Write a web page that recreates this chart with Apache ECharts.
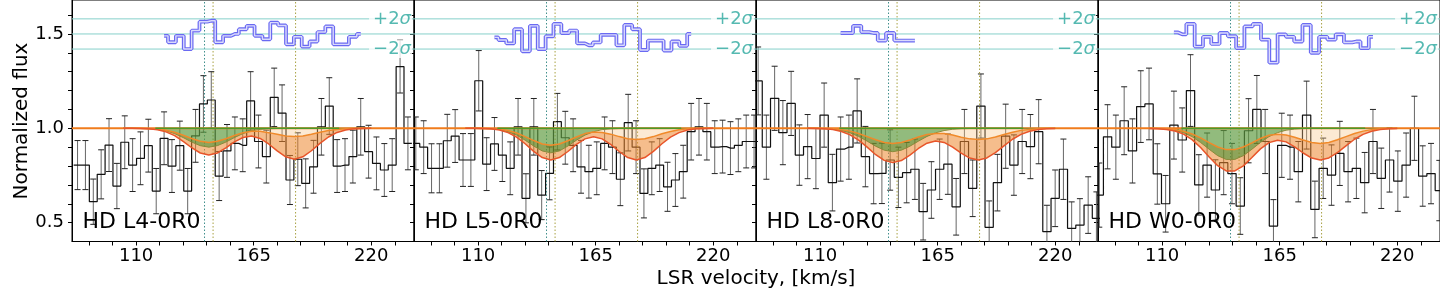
<!DOCTYPE html>
<html><head><meta charset="utf-8">
<script src="https://cdn.jsdelivr.net/npm/echarts@6/dist/echarts.min.js"></script>
<style>html,body{margin:0;padding:0;background:#fff}#c{width:1440px;height:288px}</style>
</head><body><div id="c"></div>
<script>
// ---------------- data ----------------
const panelNames = ['HD L4-0R0', 'HD L5-0R0', 'HD L8-0R0', 'HD W0-0R0'];
const xTickValues = [88, 99, 110, 121, 132, 143, 154, 165, 176, 187, 198, 209, 220, 231];
const xLabelValues = [110, 165, 220];
const yTickValues = [0.5, 0.6, 0.7, 0.8, 0.9, 1.0, 1.1, 1.2, 1.3, 1.4, 1.5, 1.6];
const yLabelValues = [0.5, 1.0, 1.5];
const componentVel = [142.0, 146.0, 184.6];
const residZero = 1.5;
const sigmaLevels = [1.58, 1.42];
const sigmaLabels = ['+2', '\u22122'];
const continuum = 1.0;
const componentSpan = [119, 205];

// bin centre of first bin and bin width (km/s) per panel
const binStart = [82.6, 80.85, 81.0, 80.6];
const binWidth = [3.68, 3.68, 3.86, 3.88];

const p1Flux = [0.805,0.805,0.611,0.756,0.911,0.694,0.926,0.805,0.841,0.908,0.667,0.947,0.80,0.908,0.667,0.96,1.129,1.15,0.747,0.88,0.92,0.91,1.145,0.93,0.85,1.164,1.08,0.726,0.836,0.708,0.796,1.008,1.118,0.80,0.805,0.85,1.008,0.876,0.814,0.779,0.805,1.327,0.92];
const p1Err  = [0.13,0.13,0.12,0.13,0.14,0.12,0.14,0.14,0.14,0.14,0.12,0.14,0.14,0.13,0.12,0.14,0.15,0.15,0.13,0.14,0.14,0.14,0.155,0.14,0.14,0.155,0.15,0.13,0.14,0.13,0.14,0.15,0.15,0.14,0.14,0.14,0.15,0.14,0.14,0.14,0.14,0.14,0.14];
const p2Flux = [0.92,0.90,0.788,0.788,0.934,0.959,0.832,0.832,1.252,0.81,0.917,0.858,0.788,1.008,0.629,1.008,0.646,0.761,1.035,0.95,0.91,0.796,0.77,0.788,0.92,0.90,0.73,1.03,0.90,0.655,0.788,0.805,0.69,0.726,0.77,0.982,1.008,0.982,0.90,0.903,0.895,0.91,0.93,0.93];
const p2Err  = [0.14,0.14,0.13,0.13,0.14,0.14,0.14,0.14,0.16,0.14,0.14,0.14,0.14,0.15,0.13,0.15,0.13,0.14,0.15,0.14,0.14,0.14,0.14,0.14,0.14,0.14,0.14,0.15,0.14,0.13,0.14,0.14,0.13,0.14,0.14,0.15,0.15,0.15,0.14,0.14,0.14,0.14,0.14,0.14];
const p3Flux = [1.251,0.90,1.159,0.977,1.132,0.858,0.903,0.84,1.07,0.712,0.89,0.90,1.092,0.85,0.76,0.761,0.832,0.74,0.765,0.783,0.558,0.673,0.783,0.81,0.584,0.93,0.682,1.118,0.475,0.712,0.958,0.805,0.93,0.903,0.982,0.452,0.629,0.783,0.47,0.487,0.593,0.523];
const p3Err  = [0.18,0.17,0.17,0.17,0.17,0.16,0.17,0.16,0.17,0.15,0.17,0.17,0.17,0.16,0.16,0.16,0.16,0.16,0.16,0.16,0.15,0.15,0.16,0.16,0.15,0.17,0.15,0.17,0.14,0.15,0.17,0.16,0.17,0.17,0.17,0.14,0.15,0.16,0.14,0.14,0.15,0.14];
const p4Flux = [0.646,0.955,0.90,1.04,0.88,1.115,1.129,0.758,0.60,1.017,0.938,1.2,0.70,0.805,0.673,0.818,0.76,0.588,0.987,1.1,0.93,0.482,0.91,0.9,0.77,1.07,0.57,0.788,0.752,0.867,0.77,0.788,0.712,0.93,0.735,0.832,0.72,0.805,1.0,0.747,0.76,0.67];
const p4Err  = [0.17,0.17,0.17,0.18,0.17,0.19,0.19,0.16,0.15,0.18,0.17,0.19,0.16,0.17,0.16,0.17,0.16,0.15,0.17,0.18,0.17,0.14,0.17,0.17,0.16,0.18,0.15,0.16,0.16,0.17,0.16,0.16,0.16,0.17,0.16,0.17,0.16,0.17,0.17,0.16,0.16,0.16];

// residuals: first bin index and values
const resStartBin = [11, 10, 10, 9];
const p1Res = [1.49,1.456,1.49,1.42,1.518,1.565,1.57,1.456,1.49,1.50,1.525,1.543,1.49,1.472,1.56,1.545,1.445,1.485,1.433,1.46,1.51,1.54,1.445,1.445,1.485,1.50];
const p2Res = [1.482,1.468,1.45,1.525,1.408,1.543,1.42,1.488,1.553,1.505,1.518,1.45,1.44,1.455,1.495,1.495,1.44,1.548,1.525,1.415,1.465,1.465,1.412,1.46,1.437,1.5];
const p3Res = [1.505,1.505,1.543,1.51,1.505,1.465,1.505,1.465,1.465,1.465];
const p4Res = [1.508,1.498,1.553,1.433,1.485,1.447,1.505,1.488,1.425,1.54,1.553,1.47,1.348,1.498,1.485,1.46,1.548,1.40,1.485,1.47,1.498,1.455,1.46,1.425,1.485];

// model curves sampled on modelVel
const modelVel = [104,108,112,116,120,124,128,132,136,140,144,148,152,156,160,164,168,172,176,180,184,188,192,196,200,204,208,212,216,220];
const p1TotLo = [1.000,1.000,0.999,0.997,0.992,0.981,0.961,0.931,0.897,0.869,0.858,0.869,0.896,0.928,0.951,0.959,0.946,0.917,0.880,0.849,0.836,0.849,0.881,0.920,0.954,0.978,0.991,0.997,0.999,1.000];
const p1TotHi = [1.000,1.000,1.000,0.998,0.996,0.990,0.979,0.963,0.946,0.931,0.925,0.931,0.945,0.962,0.977,0.984,0.984,0.977,0.968,0.959,0.956,0.959,0.968,0.979,0.988,0.994,0.998,0.999,1.000,1.000];
const p1C1Lo  = [1.000,1.000,0.999,0.998,0.994,0.987,0.972,0.951,0.927,0.908,0.900,0.908,0.927,0.951,0.972,0.987,0.994,0.998,0.999,1.000,1.000,1.000,1.000,1.000,1.000,1.000,1.000,1.000,1.000,1.000];
const p2TotLo = [1.000,1.000,0.999,0.997,0.991,0.977,0.953,0.918,0.878,0.845,0.832,0.845,0.877,0.915,0.944,0.955,0.944,0.915,0.877,0.845,0.832,0.845,0.878,0.918,0.953,0.977,0.991,0.997,0.999,1.000];
const p2TotHi = [1.000,1.000,0.999,0.998,0.995,0.988,0.975,0.956,0.935,0.917,0.910,0.917,0.934,0.954,0.972,0.980,0.978,0.969,0.956,0.945,0.940,0.945,0.956,0.971,0.983,0.992,0.997,0.999,1.000,1.000];
const p2C1Lo  = [1.000,1.000,0.999,0.997,0.993,0.982,0.964,0.937,0.906,0.880,0.870,0.880,0.906,0.937,0.964,0.982,0.993,0.997,0.999,1.000,1.000,1.000,1.000,1.000,1.000,1.000,1.000,1.000,1.000,1.000];
const p3TotLo = [1.000,0.999,0.997,0.993,0.983,0.965,0.937,0.900,0.860,0.830,0.818,0.829,0.858,0.893,0.921,0.933,0.925,0.900,0.868,0.842,0.832,0.843,0.871,0.907,0.942,0.968,0.984,0.993,0.998,0.999];
const p3TotHi = [1.000,1.000,0.999,0.997,0.993,0.985,0.972,0.956,0.939,0.925,0.920,0.925,0.938,0.954,0.967,0.973,0.972,0.964,0.953,0.944,0.940,0.944,0.954,0.967,0.979,0.989,0.994,0.998,1.000,1.000];
const p3C1Lo  = [1.000,0.999,0.998,0.995,0.988,0.976,0.957,0.932,0.905,0.884,0.876,0.884,0.905,0.932,0.957,0.976,0.988,0.995,0.998,0.999,1.000,1.000,1.000,1.000,1.000,1.000,1.000,1.000,1.000,1.000];
const p4TotLo = [0.999,0.998,0.994,0.986,0.969,0.940,0.898,0.848,0.802,0.774,0.774,0.801,0.845,0.891,0.924,0.937,0.928,0.902,0.869,0.842,0.832,0.843,0.871,0.907,0.942,0.968,0.984,0.993,0.998,0.999];
const p4TotHi = [1.000,0.999,0.997,0.993,0.984,0.970,0.949,0.924,0.901,0.887,0.887,0.901,0.923,0.946,0.963,0.969,0.965,0.953,0.938,0.925,0.920,0.925,0.939,0.956,0.972,0.985,0.993,0.997,0.999,1.000];
const p4C1Lo  = [1.000,0.999,0.996,0.990,0.977,0.956,0.925,0.889,0.855,0.835,0.835,0.855,0.889,0.925,0.956,0.977,0.990,0.996,0.999,1.000,1.000,1.000,1.000,1.000,1.000,1.000,1.000,1.000,1.000,1.000];

// ---------------- build ----------------
const panels = [
  {flux:p1Flux, err:p1Err, res:p1Res, lo:p1TotLo, hi:p1TotHi, c1:p1C1Lo},
  {flux:p2Flux, err:p2Err, res:p2Res, lo:p2TotLo, hi:p2TotHi, c1:p2C1Lo},
  {flux:p3Flux, err:p3Err, res:p3Res, lo:p3TotLo, hi:p3TotHi, c1:p3C1Lo},
  {flux:p4Flux, err:p4Err, res:p4Res, lo:p4TotLo, hi:p4TotHi, c1:p4C1Lo}
];

const FONT = 'DejaVu Sans';
const LEFT = 72, PW = 342, TOP = 0, PH = 241.5;
const X_MIN = 80, X_MAX = 240, Y_MIN = 0.4, Y_MAX = 1.68;
const TEAL_LINE = '#86d0ca', TEAL_TEXT = '#2aa89e';

const grids = [], xAxes = [], yAxes = [], series = [], graphics = [];

function bandSeries(i, upper, lower, color, z) {
  return {
    type: 'custom', xAxisIndex: i, yAxisIndex: i, z: z, silent: true, clip: true,
    data: [[modelVel[0], continuum]],
    renderItem: function (params, api) {
      const top = modelVel.map((v, j) => api.coord([v, Array.isArray(upper) ? upper[j] : upper]));
      const bot = modelVel.map((v, j) => api.coord([v, Array.isArray(lower) ? lower[j] : lower])).reverse();
      return { type: 'polygon', shape: { points: top.concat(bot) }, style: { fill: color } };
    }
  };
}
function curveSeries(i, arr, color, width, z) {
  return {
    type: 'line', xAxisIndex: i, yAxisIndex: i, z: z, silent: true, symbol: 'none',
    data: modelVel.map((v, j) => [v, arr[j]]),
    lineStyle: { color: color, width: width }
  };
}

panels.forEach((p, i) => {
  grids.push({ left: LEFT + PW * i, top: TOP, width: PW, height: PH, show: true,
    borderColor: '#000', borderWidth: 1, backgroundColor: 'transparent' });
  xAxes.push({
    type: 'value', gridIndex: i, min: X_MIN, max: X_MAX,
    axisLine: { show: true, lineStyle: { color: '#000', width: 1 } },
    axisTick: { show: true, customValues: xTickValues, length: 4, inside: false, lineStyle: { color: '#000' } },
    axisLabel: { show: true, customValues: xLabelValues, color: '#000', fontSize: 18, fontFamily: FONT, margin: 6 },
    splitLine: { show: false }
  });
  yAxes.push({
    type: 'value', gridIndex: i, min: Y_MIN, max: Y_MAX,
    axisLine: { show: true, lineStyle: { color: '#000', width: 1 } },
    axisTick: { show: true, customValues: yTickValues, length: 4, inside: false, lineStyle: { color: '#000' } },
    axisLabel: { show: i === 0, customValues: yLabelValues, color: '#000', fontSize: 18, fontFamily: FONT, margin: 8,
      formatter: v => Number(v).toFixed(1) },
    splitLine: { show: false }
  });

  const w = binWidth[i], c0 = binStart[i];
  const centers = p.flux.map((f, k) => c0 + w * k);

  // data histogram (full bins)
  const histPts = [[centers[0] - w / 2, p.flux[0]]]
    .concat(centers.map((c, k) => [c, p.flux[k]]))
    .concat([[centers[centers.length - 1] + w / 2, p.flux[p.flux.length - 1]]]);
  series.push({ type: 'line', xAxisIndex: i, yAxisIndex: i, z: 2, silent: true, symbol: 'none', step: 'middle',
    data: histPts, lineStyle: { color: '#111', width: 1.2 } });

  // error bars
  series.push({
    type: 'custom', xAxisIndex: i, yAxisIndex: i, z: 2, silent: true, clip: true,
    data: centers.map((c, k) => [c, p.flux[k] - p.err[k], p.flux[k] + p.err[k]]),
    encode: { x: 0, y: [1, 2] },
    renderItem: function (params, api) {
      const x = api.value(0);
      const lo = api.coord([x, api.value(1)]);
      const hi = api.coord([x, api.value(2)]);
      return { type: 'group', children: [
        { type: 'line', shape: { x1: lo[0], y1: lo[1], x2: hi[0], y2: hi[1] }, style: { stroke: '#666', lineWidth: 1 } },
        { type: 'line', shape: { x1: lo[0] - 3, y1: lo[1], x2: lo[0] + 3, y2: lo[1] }, style: { stroke: '#222', lineWidth: 1 } },
        { type: 'line', shape: { x1: hi[0] - 3, y1: hi[1], x2: hi[0] + 3, y2: hi[1] }, style: { stroke: '#222', lineWidth: 1 } }
      ] };
    }
  });

  // component velocity markers
  const vColors = ['#3f8f8c', '#a8a040', '#a8a040'];
  componentVel.forEach((v, j) => {
    series.push({ type: 'line', xAxisIndex: i, yAxisIndex: i, z: 3, silent: true, symbol: 'none',
      data: [[v, Y_MIN], [v, Y_MAX]], lineStyle: { color: vColors[j], width: 1, type: [1.5, 2] } });
  });

  // model fills
  series.push(bandSeries(i, continuum, p.hi, 'rgba(245,195,130,0.35)', 4));
  series.push(bandSeries(i, p.hi, p.lo, 'rgba(236,135,45,0.55)', 4));
  series.push(bandSeries(i, continuum, p.c1, 'rgba(40,140,40,0.5)', 4));

  // continuum & model lines
  series.push({ type: 'line', xAxisIndex: i, yAxisIndex: i, z: 5, silent: true, symbol: 'none',
    data: [[X_MIN, continuum], [X_MAX, continuum]], lineStyle: { color: '#f07c1c', width: 2 } });
  series.push(curveSeries(i, p.c1, '#8a8a3a', 1, 5));
  series.push(curveSeries(i, p.hi, '#f08a2a', 1.5, 5));
  series.push(curveSeries(i, p.lo, '#e8552a', 1.5, 5));
  series.push({ type: 'line', xAxisIndex: i, yAxisIndex: i, z: 5, silent: true, symbol: 'none',
    data: [[componentSpan[0], continuum], [componentSpan[1], continuum]], lineStyle: { color: '#4a9a2a', width: 1.5 } });

  // residual reference lines
  [residZero].concat(sigmaLevels).forEach(lv => {
    series.push({ type: 'line', xAxisIndex: i, yAxisIndex: i, z: 6, silent: true, symbol: 'none',
      data: [[X_MIN, lv], [X_MAX, lv]], lineStyle: { color: TEAL_LINE, width: 1 } });
  });

  // residual band
  const rs = resStartBin[i];
  const resPts = p.res.map((r, k) => [c0 + w * (rs + k), r]);
  series.push({ type: 'line', xAxisIndex: i, yAxisIndex: i, z: 7, silent: true, symbol: 'none', step: 'middle',
    data: resPts, lineStyle: { color: '#6a6af2', width: 3.8 } });
  series.push({ type: 'line', xAxisIndex: i, yAxisIndex: i, z: 7, silent: true, symbol: 'none', step: 'middle',
    data: resPts, lineStyle: { color: '#dadafc', width: 1.4 } });

  // sigma labels
  series.push({
    type: 'scatter', xAxisIndex: i, yAxisIndex: i, z: 9, silent: true, clip: false, symbolSize: 0,
    data: sigmaLevels.map((lv, j) => ({ value: [X_MAX, lv], label: { formatter: '{n|' + sigmaLabels[j] + '}{s|\u03c3}' } })),
    label: { show: true, position: 'left', distance: 2, backgroundColor: '#fff', padding: [0, 1, 0, 4],
      rich: { n: { fontSize: 18, fontFamily: FONT, color: TEAL_TEXT }, s: { fontSize: 18, fontFamily: FONT, fontStyle: 'italic', color: TEAL_TEXT } } }
  });

  graphics.push({ type: 'text', left: LEFT + PW * i + 10.5, top: 211.5, z: 100,
    style: { text: panelNames[i], fill: '#000', font: '22px "DejaVu Sans"' } });
});

graphics.push({ type: 'text', x: 22, y: 121, rotation: Math.PI / 2, z: 100,
  style: { text: 'Normalized flux', fill: '#000', font: '20px "DejaVu Sans"', align: 'center', verticalAlign: 'middle' } });
graphics.push({ type: 'text', x: 756, y: 279, z: 100,
  style: { text: 'LSR velocity, [km/s]', fill: '#000', font: '20px "DejaVu Sans"', align: 'center', verticalAlign: 'middle' } });

const chart = echarts.init(document.getElementById('c'), null, { renderer: 'canvas' });
chart.setOption({
  animation: false,
  backgroundColor: '#fff',
  grid: grids, xAxis: xAxes, yAxis: yAxes, series: series, graphic: graphics
});
</script>
</body></html>
